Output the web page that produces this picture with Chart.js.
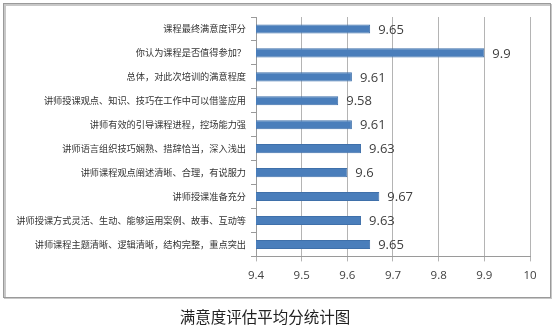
<!DOCTYPE html>
<html>
<head>
<meta charset="utf-8">
<script src="https://cdn.jsdelivr.net/npm/chart.js@4"></script>
<style>
  html, body { margin: 0; padding: 0; background: #fff; }
  #wrap { width: 554px; height: 327px; }
</style>
</head>
<body>
<div id="wrap"><canvas id="score-chart" width="554" height="327"></canvas></div>
<script>
const categories = [
    '课程最终满意度评分',
    '你认为课程是否值得参加？',
    '总体，对此次培训的满意程度',
    '讲师授课观点、知识、技巧在工作中可以借鉴应用',
    '讲师有效的引导课程进程，控场能力强',
    '讲师语言组织技巧娴熟、措辞恰当，深入浅出',
    '讲师课程观点阐述清晰、合理，有说服力',
    '讲师授课准备充分',
    '讲师授课方式灵活、生动、能够运用案例、故事、互动等',
    '讲师课程主题清晰、逻辑清晰，结构完整，重点突出'
]
const scores = [9.65, 9.9, 9.61, 9.58, 9.61, 9.63, 9.6, 9.67, 9.63, 9.65]
const xTicks = [9.4, 9.5, 9.6, 9.7, 9.8, 9.9, 10]

const cjk = '"Noto Sans CJK SC", "Noto Sans", sans-serif'

// outer frame like the Excel chart box
const framePlugin = {
    id: 'frame',
    beforeDraw(chart) {
        const ctx = chart.ctx
        ctx.save()
        ctx.strokeStyle = '#c8c8c8'
        ctx.lineWidth = 2
        ctx.strokeRect(5, 5, 546, 293)
        ctx.strokeStyle = '#9a9a9a'
        ctx.lineWidth = 1
        ctx.strokeRect(3.5, 3.5, 547, 294)
        ctx.restore()
    }
}

// value labels at the end of each bar
const valueLabels = {
    id: 'valueLabels',
    afterDatasetsDraw(chart) {
        const ctx = chart.ctx
        const meta = chart.getDatasetMeta(0)
        ctx.save()
        ctx.font = '13px "Open Sans", sans-serif'
        ctx.fillStyle = '#404040'
        ctx.textBaseline = 'middle'
        meta.data.forEach((bar, i) => {
            ctx.fillText(String(scores[i]), bar.x + 8, bar.y + 1)
        })
        ctx.restore()
    }
}

new Chart(document.querySelector('#score-chart').getContext('2d'), {
    type: 'bar',
    data: {
        labels: categories,
        datasets: [{
            data: scores,
            backgroundColor: '#4a7ebb',
            borderColor: '#3f70aa',
            borderWidth: 1,
            borderSkipped: 'left',
            categoryPercentage: 1,
            barPercentage: 0.38
        }]
    },
    options: {
        indexAxis: 'y',
        responsive: false,
        animation: false,
        devicePixelRatio: 1,
        layout: { padding: { left: 0, right: 24, top: 17, bottom: 0 } },
        plugins: {
            legend: { display: false },
            tooltip: { enabled: false },
            title: {
                display: true,
                position: 'bottom',
                text: '满意度评估平均分统计图',
                color: '#222',
                font: { family: cjk, size: 15.5, weight: 'normal' },
                padding: { top: 0, bottom: 1 }
            }
        },
        scales: {
            x: {
                min: 9.4,
                max: 10,
                afterBuildTicks(scale) {
                    scale.ticks = xTicks.map(v => ({ value: v }))
                },
                afterFit(scale) { scale.height = 51 },
                grid: {
                    color: '#b4b4b4',
                    tickColor: '#b4b4b4',
                    tickLength: 5
                },
                border: { color: '#9a9a9a' },
                ticks: {
                    color: '#404040',
                    padding: 7,
                    font: { family: '"Open Sans", sans-serif', size: 11.5 },
                    callback: v => String(v)
                }
            },
            y: {
                afterFit(scale) { scale.width = 256 },
                grid: {
                    drawOnChartArea: false,
                    offset: true,
                    color: '#9a9a9a',
                    tickLength: 5
                },
                border: { color: '#9a9a9a' },
                ticks: {
                    color: '#333',
                    padding: 5,
                    autoSkip: false,
                    font: { family: cjk, size: 9.2 }
                }
            }
        }
    },
    plugins: [framePlugin, valueLabels]
})
</script>
</body>
</html>
